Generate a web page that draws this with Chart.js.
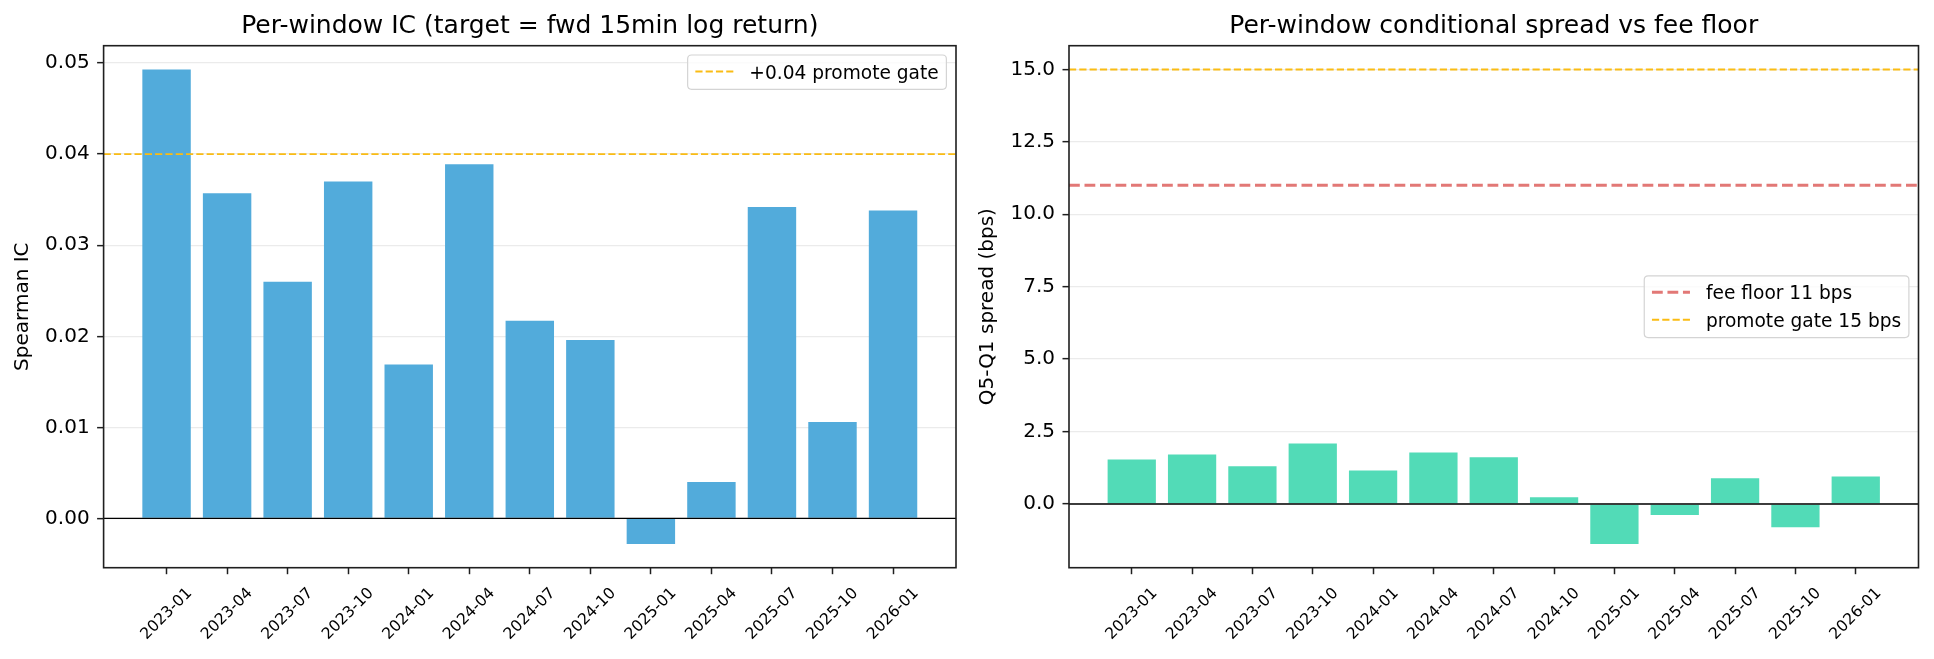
<!DOCTYPE html>
<html>
<head>
<meta charset="utf-8">
<script src="https://cdn.jsdelivr.net/npm/chart.js@4.4.1/dist/chart.umd.min.js"></script>
<style>
  html, body { margin: 0; padding: 0; background: #fff; }
  #wrap { position: relative; width: 1934px; height: 659px; }
  .panel { position: absolute; top: 0; width: 967px; height: 659px; }
</style>
</head>
<body>
<div id="wrap">
  <div class="panel" style="left:0"><canvas id="icChart"></canvas></div>
  <div class="panel" style="left:967px"><canvas id="spreadChart"></canvas></div>
</div>
<script>
// quarterly windows
const windows = ['2023-01', '2023-04', '2023-07', '2023-10', '2024-01', '2024-04', '2024-07',
                 '2024-10', '2025-01', '2025-04', '2025-07', '2025-10', '2026-01'];

// Spearman IC per window
const icValues = [0.0493, 0.0357, 0.0260, 0.0370, 0.0169, 0.0389, 0.0217,
                  0.0196, -0.0028, 0.0040, 0.0342, 0.0106, 0.0338];
const icTicks = [0.00, 0.01, 0.02, 0.03, 0.04, 0.05];
const icGate = 0.04;

// Q5-Q1 spread per window (bps)
const spreadValues = [1.54, 1.71, 1.30, 2.09, 1.16, 1.78, 1.61,
                      0.23, -1.38, -0.38, 0.89, -0.80, 0.95];
const spreadTicks = [0.0, 2.5, 5.0, 7.5, 10.0, 12.5, 15.0];
const feeFloor = 11;
const spreadGate = 15;

const FONT = '"DejaVu Sans", sans-serif';
Chart.defaults.font.family = FONT;
Chart.defaults.color = '#000';

// matplotlib style 5% margins
function padded(lo, hi) {
  const m = (hi - lo) * 0.05;
  return [lo - m, hi + m];
}
const [xMin, xMax] = padded(-0.4, windows.length - 1 + 0.4);

function roundRect(ctx, x, y, w, h, r) {
  ctx.beginPath();
  ctx.moveTo(x + r, y);
  ctx.lineTo(x + w - r, y);
  ctx.quadraticCurveTo(x + w, y, x + w, y + r);
  ctx.lineTo(x + w, y + h - r);
  ctx.quadraticCurveTo(x + w, y + h, x + w - r, y + h);
  ctx.lineTo(x + r, y + h);
  ctx.quadraticCurveTo(x, y + h, x, y + h - r);
  ctx.lineTo(x, y + r);
  ctx.quadraticCurveTo(x, y, x + r, y);
  ctx.closePath();
}

const mplDecor = {
  id: 'mplDecor',
  afterDatasetsDraw(chart) {
    const { ctx, chartArea: a, scales } = chart;
    const y0 = scales.y.getPixelForValue(0);
    ctx.save();
    ctx.strokeStyle = '#000';
    ctx.lineWidth = 1.3;
    ctx.beginPath();
    ctx.moveTo(a.left, y0);
    ctx.lineTo(a.right, y0);
    ctx.stroke();
    ctx.restore();
  },
  afterDraw(chart, args, o) {
    const { ctx, chartArea: a, scales } = chart;
    ctx.save();

    // frame
    ctx.strokeStyle = '#1f1f1f';
    ctx.lineWidth = 1.6;
    ctx.strokeRect(a.left, a.top, a.right - a.left, a.bottom - a.top);

    // title
    ctx.fillStyle = '#000';
    ctx.font = `25px ${FONT}`;
    ctx.textAlign = 'center';
    ctx.textBaseline = 'alphabetic';
    ctx.fillText(o.title, (a.left + a.right) / 2, a.top - 12.4);

    // y label
    ctx.save();
    ctx.font = `20px ${FONT}`;
    ctx.translate(a.left - 81, (a.top + a.bottom) / 2);
    ctx.rotate(-Math.PI / 2);
    ctx.textBaseline = 'middle';
    ctx.fillText(o.yLabel, 0, 0);
    ctx.restore();

    // rotated x tick labels, centred under the tick
    const fs = 15.6;
    ctx.font = `${fs}px ${FONT}`;
    windows.forEach((lab, i) => {
      const px = scales.x.getPixelForValue(i);
      const w = ctx.measureText(lab).width;
      const ext = (w + fs * 1.17) / Math.SQRT2;
      const cy = a.bottom + 6.5 + 7.3 + ext / 2 + 3;
      ctx.save();
      ctx.translate(px, cy);
      ctx.rotate(-Math.PI / 4);
      ctx.textAlign = 'center';
      ctx.textBaseline = 'middle';
      ctx.fillText(lab, 0, 0);
      ctx.restore();
    });

    // legend
    const items = chart.data.datasets.filter(d => d.label);
    const lfs = 18.6;
    ctx.font = `${lfs}px ${FONT}`;
    const textW = Math.max(...items.map(d => ctx.measureText(d.label).width));
    const pad = 7.7, sample = 38, gap = 16, rowH = 27.5;
    const boxW = pad + sample + gap + textW + pad;
    const boxH = 6.8 + rowH * items.length;
    const bx = a.right - 9.6 - boxW;
    const by = o.legendLoc === 'center right'
      ? (a.top + a.bottom) / 2 - boxH / 2
      : a.top + 9.3;
    roundRect(ctx, bx, by, boxW, boxH, 4);
    ctx.fillStyle = 'rgba(255,255,255,0.8)';
    ctx.fill();
    ctx.strokeStyle = '#d4d4d4';
    ctx.lineWidth = 1.2;
    ctx.stroke();
    items.forEach((d, i) => {
      const cy = by + 16.5 + i * rowH;
      ctx.save();
      ctx.strokeStyle = d.borderColor;
      ctx.lineWidth = d.borderWidth;
      ctx.setLineDash(d.borderDash);
      ctx.beginPath();
      ctx.moveTo(bx + pad, cy);
      ctx.lineTo(bx + pad + sample, cy);
      ctx.stroke();
      ctx.restore();
      ctx.fillStyle = '#000';
      ctx.textAlign = 'left';
      ctx.textBaseline = 'alphabetic';
      ctx.fillText(d.label, bx + pad + sample + gap, cy + 7);
    });

    ctx.restore();
  }
};

function makeChart(id, cfg) {
  const lo = Math.min(0, ...cfg.values, ...cfg.lines.map(l => l.value));
  const hi = Math.max(0, ...cfg.values, ...cfg.lines.map(l => l.value));
  const [yMin, yMax] = padded(lo, hi);

  const datasets = [{
    type: 'bar',
    data: cfg.values.map((v, i) => ({ x: i, y: v })),
    backgroundColor: cfg.barColor,
    borderWidth: 0,
    categoryPercentage: 0.8,
    barPercentage: 1.0,
    order: 3
  }];
  cfg.lines.forEach(l => {
    datasets.push({
      type: 'line',
      label: l.label,
      data: [{ x: xMin, y: l.value }, { x: xMax, y: l.value }],
      borderColor: l.color,
      borderWidth: l.width,
      borderDash: l.dash,
      pointRadius: 0,
      fill: false,
      order: 1
    });
  });

  return new Chart(document.getElementById(id), {
    data: { datasets },
    plugins: [mplDecor],
    options: {
      responsive: true,
      maintainAspectRatio: false,
      animation: false,
      devicePixelRatio: 1,
      layout: { padding: { top: 45.7, right: cfg.padRight, left: 0, bottom: 0 } },
      plugins: {
        legend: { display: false },
        title: { display: false },
        tooltip: { enabled: false },
        mplDecor: { title: cfg.title, yLabel: cfg.yLabel, legendLoc: cfg.legendLoc }
      },
      scales: {
        x: {
          type: 'linear',
          min: xMin,
          max: xMax,
          offset: false,
          border: { display: false },
          grid: { offset: false, drawOnChartArea: false, drawTicks: true, tickLength: 6.5, tickWidth: 1.5, tickColor: '#1f1f1f' },
          ticks: { display: false, autoSkip: false },
          afterBuildTicks: s => { s.ticks = windows.map((_, i) => ({ value: i })); },
          afterFit: s => { s.height = 91.3; }
        },
        y: {
          type: 'linear',
          min: yMin,
          max: yMax,
          border: { display: false },
          grid: { color: '#ebebeb', lineWidth: 1.3, tickLength: 6.5, tickWidth: 1.5, tickColor: '#1f1f1f' },
          ticks: { font: { size: 20 }, color: '#000', padding: 7.5, callback: v => v.toFixed(cfg.decimals) },
          afterBuildTicks: s => { s.ticks = cfg.ticks.map(v => ({ value: v })); },
          afterFit: s => { s.width = cfg.leftW; }
        }
      }
    }
  });
}

makeChart('icChart', {
  title: 'Per-window IC (target = fwd 15min log return)',
  yLabel: 'Spearman IC',
  values: icValues,
  ticks: icTicks,
  decimals: 2,
  barColor: 'rgb(82,171,219)',
  lines: [
    { label: '+0.04 promote gate', value: icGate, color: 'rgb(250,188,20)', width: 1.9, dash: [7.2, 3.1] }
  ],
  legendLoc: 'upper right',
  leftW: 103.6,
  padRight: 11
});

makeChart('spreadChart', {
  title: 'Per-window conditional spread vs fee floor',
  yLabel: 'Q5-Q1 spread (bps)',
  values: spreadValues,
  ticks: spreadTicks,
  decimals: 1,
  barColor: 'rgb(82,219,183)',
  lines: [
    { label: 'fee floor 11 bps', value: feeFloor, color: 'rgb(226,120,118)', width: 2.9, dash: [10.8, 4.7] },
    { label: 'promote gate 15 bps', value: spreadGate, color: 'rgb(250,188,20)', width: 1.9, dash: [7.2, 3.1] }
  ],
  legendLoc: 'center right',
  leftW: 102,
  padRight: 15.5
});
</script>
</body>
</html>
